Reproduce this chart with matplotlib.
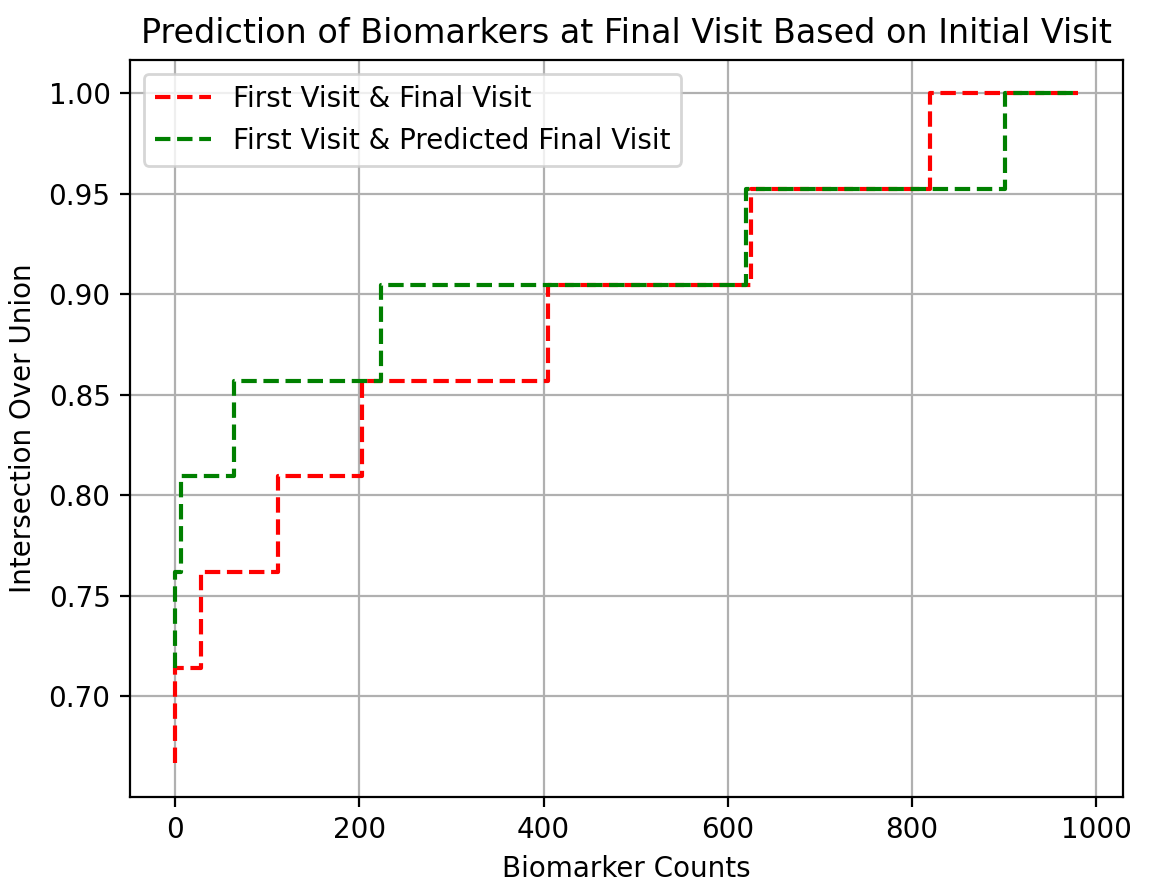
import matplotlib
matplotlib.use("Agg")
import matplotlib.pyplot as plt

# Step breakpoints (Biomarker Counts) and IoU levels
red_x = [0, 0, 28, 112, 203, 405, 625, 820, 980]
red_y = [0.6667, 0.7143, 0.7619, 0.8095, 0.8571, 0.9048, 0.9524, 1.0, 1.0]

green_x = [0, 0, 6, 64, 223, 620, 901, 980]
green_y = [0.7143, 0.7619, 0.8095, 0.8571, 0.9048, 0.9524, 1.0, 1.0]

labels = ["First Visit & Final Visit", "First Visit & Predicted Final Visit"]

W, H, DPI = 1156, 892, 200
fig = plt.figure(figsize=(W / DPI, H / DPI), dpi=DPI)
ax = fig.add_axes([130 / W, 1 - 796.7 / H, (1123 - 130) / W, (796.7 - 60) / H])

ax.step(red_x, red_y, where="post", color="red", linestyle="--", label=labels[0])
ax.step(green_x, green_y, where="post", color="green", linestyle="--", label=labels[1])

ax.set_title("Prediction of Biomarkers at Final Visit Based on Initial Visit")
ax.set_xlabel("Biomarker Counts")
ax.set_ylabel("Intersection Over Union")
ax.grid(True)
ax.legend(loc="upper left")

fig.savefig("out.png", dpi=DPI)
